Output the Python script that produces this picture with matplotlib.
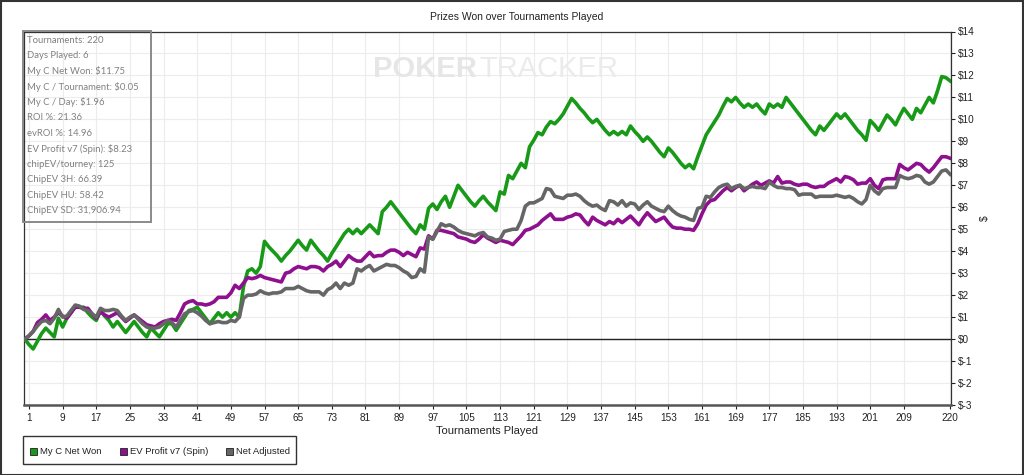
import matplotlib
matplotlib.use("Agg")
import matplotlib.pyplot as plt
from matplotlib.patches import Rectangle

# cumulative values per tournament, t = 0..220
net_won = [
    0, -0.25, -0.45, -0.1, 0.25, 0.5, 0.3, 0.1, 0.95, 0.55,
    0.95, 1.2, 1.5, 1.45, 1.45, 1.2, 1.0, 0.85, 1.3, 1.05,
    0.85, 0.55, 0.8, 0.55, 0.3, 0.55, 0.8, 0.55, 0.3, 0.1,
    0.5, 0.3, 0.1, 0.4, 0.7, 0.7, 0.4, 0.7, 1.0, 1.3,
    1.35, 1.45, 1.2, 0.95, 0.7, 0.95, 1.2, 1.0, 1.2, 1.0,
    1.2, 1.0, 2.4, 3.1, 3.2, 3.0, 3.3, 4.45, 4.2, 4.0,
    3.8, 3.55, 3.8, 4.0, 4.25, 4.5, 4.25, 4.05, 4.5, 4.25,
    4.0, 3.8, 3.55, 3.9, 4.2, 4.5, 4.8, 5.0, 4.8, 5.0,
    4.8, 5.0, 5.2, 5.0, 4.8, 5.8, 6.0, 6.25, 6.0, 5.75,
    5.5, 5.25, 5.0, 4.8, 5.2, 5.0, 5.95, 6.15, 5.9, 6.25,
    6.5, 6.0, 6.5, 7.0, 6.75, 6.5, 6.25, 6.05, 6.3, 6.5,
    6.25, 6.05, 5.85, 6.7, 6.6, 7.45, 7.3, 7.65, 8.0, 7.8,
    8.75, 9.05, 9.4, 9.3, 9.65, 9.9, 9.8, 10.0, 10.25, 10.6,
    10.95, 10.75, 10.5, 10.3, 10.05, 9.85, 10.0, 9.75, 9.5, 9.3,
    9.45, 9.3, 9.45, 9.3, 9.7, 9.45, 9.25, 9.0, 9.2, 9.0,
    8.75, 8.5, 8.3, 8.7, 8.5, 8.25, 8.0, 7.8, 7.95, 7.75,
    8.3, 8.8, 9.3, 9.6, 9.9, 10.2, 10.6, 10.95, 10.8, 11.0,
    10.75, 10.55, 10.7, 10.55, 10.7, 10.45, 10.25, 10.7, 10.55, 10.7,
    10.55, 11.0, 10.75, 10.5, 10.25, 10.0, 9.75, 9.5, 9.3, 9.7,
    9.5, 9.75, 10.0, 10.25, 10.05, 10.25, 10.0, 9.75, 9.5, 9.3,
    9.05, 9.95, 9.75, 9.5, 9.85, 10.2, 10.0, 9.75, 10.15, 10.5,
    10.25, 10.0, 10.5, 10.3, 10.65, 11.0, 10.75, 11.3, 11.95, 11.9,
    11.75,
]

ev_profit = [
    0, 0.15, 0.35, 0.75, 0.9, 1.1, 0.85, 1.0, 1.2, 1.05,
    0.95, 1.2, 1.45, 1.45, 1.4, 1.4, 1.15, 0.95, 1.25, 1.1,
    1.0, 1.1, 1.2, 1.0, 0.8, 0.95, 1.1, 0.95, 0.8, 0.65,
    0.6, 0.55, 0.7, 0.8, 0.85, 0.9, 0.85, 1.2, 1.6, 1.7,
    1.75, 1.6, 1.6, 1.55, 1.6, 1.7, 1.9, 1.9, 1.9, 2.1,
    2.45, 2.3, 2.55, 2.8, 2.75, 2.8, 2.9, 2.8, 2.75, 2.7,
    2.65, 2.6, 3.0, 3.05, 3.2, 3.3, 3.25, 3.2, 3.3, 3.3,
    3.25, 3.1, 3.3, 3.4, 3.55, 3.3, 3.55, 3.8, 3.65, 3.55,
    3.55, 3.75, 3.95, 3.75, 3.8, 3.8, 3.95, 4.05, 4.05, 3.95,
    3.8, 3.95, 3.85, 3.75, 4.15, 4.1, 4.7, 4.55, 4.95, 4.95,
    4.9, 4.85, 4.8, 4.65, 4.6, 4.55, 4.45, 4.4, 4.55, 4.75,
    4.6, 4.5, 4.4, 4.5, 4.45, 4.4, 4.3, 4.5, 4.7, 4.95,
    5.0, 5.1, 5.2, 5.4, 5.55, 5.7, 5.45, 5.45, 5.45, 5.55,
    5.6, 5.7, 5.65, 5.4, 5.2, 5.55, 5.4, 5.3, 5.2, 5.35,
    5.25, 5.45, 5.3, 5.45, 5.6, 5.4, 5.2, 5.5, 5.75, 5.55,
    5.35, 5.45, 5.55, 5.3, 5.1, 5.05, 5.05, 5.0, 5.0, 4.95,
    5.25, 5.7, 6.1, 6.3, 6.35, 6.55, 6.75, 6.9, 6.75, 6.9,
    7.0, 6.75, 6.9, 7.05, 7.15, 7.0, 7.1, 7.2, 7.1, 7.4,
    7.1, 7.15, 7.15, 7.05, 7.0, 7.05, 7.05, 6.95, 6.9, 6.95,
    6.95, 7.1, 7.2, 7.3, 7.15, 7.4, 7.35, 7.25, 7.05, 7.1,
    7.1, 7.3, 7.0, 6.85, 7.25, 7.3, 7.3, 7.3, 7.95, 7.8,
    7.7, 7.85, 8.0, 7.95, 7.75, 7.6, 7.8, 8.05, 8.3, 8.3,
    8.23,
]

net_adjusted = [
    0, 0.15, 0.35, 0.6, 0.8, 0.85, 0.7, 0.95, 1.35, 1.0,
    1.05, 1.3, 1.55, 1.5, 1.35, 1.3, 1.15, 1.0, 1.4, 1.3,
    1.3, 1.35, 1.3, 1.05, 0.85, 1.0, 1.1, 0.9, 0.7, 0.55,
    0.5, 0.5, 0.55, 0.7, 0.85, 0.75, 0.55, 0.85, 1.15, 1.25,
    1.3, 1.2, 1.05, 0.85, 0.7, 0.75, 0.8, 0.75, 0.75, 0.85,
    0.8, 1.0, 1.85, 2.0, 2.0, 2.05, 2.2, 2.1, 2.05, 2.1,
    2.1, 2.15, 2.3, 2.3, 2.3, 2.4, 2.3, 2.2, 2.15, 2.15,
    2.15, 2.0, 2.25, 2.35, 2.55, 2.3, 2.55, 2.45, 2.55, 3.2,
    3.1, 3.25, 3.35, 3.1, 3.2, 3.3, 3.4, 3.35, 3.35, 3.25,
    3.1, 3.0, 2.8, 2.85, 3.2, 3.05, 4.65, 4.55, 4.9, 5.25,
    5.15, 5.2, 5.1, 4.95, 4.85, 4.8, 4.75, 4.7, 4.8, 4.85,
    4.65, 4.6, 4.5, 4.55, 4.9, 4.95, 5.0, 5.0, 5.4, 6.05,
    6.2, 6.2, 6.3, 6.4, 6.85, 6.8, 6.5, 6.45, 6.4, 6.55,
    6.55, 6.6, 6.5, 6.3, 6.15, 6.05, 6.1, 5.95, 5.85, 6.3,
    6.25, 6.1, 6.3, 6.05, 6.2, 6.15, 5.9, 6.1, 6.25, 6.05,
    5.95, 5.85, 5.8, 6.05, 5.85, 5.7, 5.6, 5.55, 5.45, 5.4,
    5.95, 6.0, 6.5, 6.45, 6.7, 6.9, 7.0, 7.05, 6.85, 6.95,
    7.0, 6.85, 6.9, 6.95, 6.9, 6.9, 6.85, 7.15, 7.0, 6.9,
    6.9, 6.85, 6.85, 6.8, 6.55, 6.6, 6.6, 6.6, 6.45, 6.5,
    6.5, 6.5, 6.5, 6.55, 6.5, 6.45, 6.5, 6.4, 6.25, 6.15,
    6.35, 7.0, 6.75, 6.6, 6.85, 6.9, 6.9, 6.9, 7.45, 7.35,
    7.3, 7.35, 7.45, 7.4, 7.15, 7.05, 7.15, 7.4, 7.65, 7.7,
    7.5,
]

series_names = ["My C Net Won", "EV Profit v7 (Spin)", "Net Adjusted"]
series_colors = ["#189a18", "#8e108e", "#666666"]

stats_lines = [
    "Tournaments: 220",
    "Days Played: 6",
    "My C Net Won: $11.75",
    "My C / Tournament: $0.05",
    "My C / Day: $1.96",
    "ROI %: 21.36",
    "evROI %: 14.96",
    "EV Profit v7 (Spin): $8.23",
    "chipEV/tourney: 125",
    "ChipEV 3H: 66.39",
    "ChipEV HU: 58.42",
    "ChipEV SD: 31,906.94",
]

x_ticks = list(range(1, 210, 8)) + [220]
y_ticks = list(range(-3, 15))

plt.rcParams["font.family"] = ["Liberation Sans", "DejaVu Sans"]

W, H = 1024, 475
fig = plt.figure(figsize=(W / 100, H / 100), dpi=100)
ax = fig.add_axes([23.5 / W, (H - 405) / H, (951 - 23.5) / W, (405 - 31.5) / H])

tourneys = list(range(len(net_won)))
for vals, name, col in zip([net_won, ev_profit, net_adjusted], series_names, series_colors):
    ax.plot(tourneys, vals, color=col, lw=2.6, solid_joinstyle="round", zorder=3, label=name)

ax.axhline(0, color="#222222", lw=1.0, zorder=2)

ax.set_xlim(-0.3, 220.2)
ax.set_ylim(-3, 14)
ax.set_xticks(x_ticks)
ax.set_yticks(y_ticks)
ax.set_yticklabels([f"${v}" for v in y_ticks])
ax.grid(True, color="#ececec", lw=0.8, zorder=0)
ax.set_axisbelow(True)

ax.yaxis.tick_right()
ax.yaxis.set_label_position("right")
ax.tick_params(axis="both", labelsize=7.2, colors="#222222", length=3, width=0.8, direction="out")
ax.tick_params(axis="x", pad=3)
ax.tick_params(axis="y", pad=2)
ax.set_xlabel("Tournaments Played", fontsize=8, color="#222222", labelpad=2)
ax.set_ylabel("$", fontsize=7.5, color="#222222", labelpad=4)

for side in ["left", "top", "right"]:
    ax.spines[side].set_color("#333333")
    ax.spines[side].set_linewidth(0.9)
ax.spines["bottom"].set_color("#555555")
ax.spines["bottom"].set_linewidth(1.8)

# watermark
fig.text(477 / W, 1 - 69 / H, "POKER", fontsize=21, fontweight="bold", color="#e6e6e6",
         ha="right", va="center", zorder=1)
fig.text(479 / W, 1 - 69 / H, "TRACKER", fontsize=21, color="#ebebeb",
         ha="left", va="center", zorder=1)

fig.text(517 / W, 1 - 17 / H, "Prizes Won over Tournaments Played", fontsize=7.5,
         color="#222222", ha="center", va="center")

# stats box
fig.patches.append(Rectangle((23 / W, 1 - 222 / H), 128 / W, 191 / H, transform=fig.transFigure,
                             fill=False, edgecolor="#8a8a8a", lw=1.4, zorder=5))
for i, line in enumerate(stats_lines):
    fig.text(27 / W, 1 - (40.5 + i * 15.45) / H, line, fontsize=6.8, color="#808080",
             family=["Lato", "DejaVu Sans"], ha="left", va="center")

# legend
fig.patches.append(Rectangle((23 / W, 1 - 464 / H), 273 / W, 28 / H, transform=fig.transFigure,
                             fill=False, edgecolor="#333333", lw=1.0))
for name, col, xs in zip(series_names, series_colors, [33, 123, 229]):
    fig.patches.append(Rectangle(((xs - 3.5) / W, 1 - 455 / H), 7 / W, 7 / H,
                                 transform=fig.transFigure, facecolor=col,
                                 edgecolor="#333333", lw=0.7))
    fig.text((xs + 7) / W, 1 - 451.5 / H, name, fontsize=6.8, color="#222222",
             ha="left", va="center")

# outer frame
fig.patches.append(Rectangle((0.5 / W, 0.5 / H), (W - 1.5) / W, (H - 1.5) / H,
                             transform=fig.transFigure, fill=False, edgecolor="#333333", lw=1.5))

fig.savefig("out.png", dpi=100)
